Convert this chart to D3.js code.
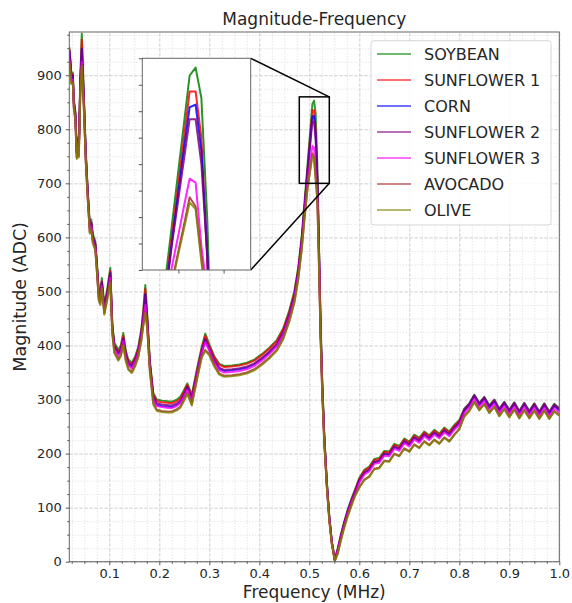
<!DOCTYPE html>
<html>
<head>
<meta charset="utf-8">
<script src="https://cdn.jsdelivr.net/npm/d3@7"></script>
<style>
  body { margin: 0; background: #fff; }
  text { font-family: "DejaVu Sans", sans-serif; fill: #262626; }
</style>
</head>
<body>
<div id="chart"></div>
<script>
// frequency grid (MHz)
const freq = [
  0.020, 0.022, 0.024, 0.027, 0.029, 0.032, 0.035, 0.037, 0.039, 0.042, 0.045, 0.049, 0.053, 0.057, 0.061, 0.064, 0.067, 0.072, 0.075, 0.079,
  0.082, 0.085, 0.090, 0.096, 0.102, 0.106, 0.110, 0.118, 0.123, 0.128, 0.133, 0.138, 0.145, 0.152, 0.158, 0.164, 0.168, 0.172, 0.176, 0.181, 0.188, 0.195,
  0.205, 0.215, 0.225, 0.235, 0.242, 0.248, 0.256, 0.265, 0.275, 0.285, 0.292, 0.300, 0.310, 0.320, 0.330, 0.345, 0.360, 0.375, 0.390, 0.405,
  0.420, 0.435, 0.448, 0.460, 0.470,
  0.478, 0.485, 0.490, 0.4963, 0.4996, 0.5029, 0.5062, 0.5095, 0.5127, 0.516, 0.5193, 0.5226, 0.526, 0.530, 0.535, 0.540, 0.545, 0.551, 0.557, 0.563,
  0.570, 0.577, 0.585, 0.592,
  0.60, 0.61, 0.62, 0.63, 0.64, 0.65, 0.66, 0.67, 0.68, 0.69, 0.70, 0.71, 0.72, 0.73, 0.74, 0.75, 0.76, 0.77, 0.78, 0.79,
  0.80, 0.81, 0.82, 0.83, 0.84, 0.85, 0.86, 0.87, 0.88, 0.89, 0.90, 0.91, 0.92, 0.93, 0.94, 0.95, 0.96, 0.97, 0.98, 0.99, 1.00
];

const soybean = [
  952, 930, 903, 905, 855, 834, 760, 785, 766, 896, 977, 865, 758, 685, 624, 633, 606, 593, 556, 500,
  492, 525, 475, 505, 544, 440, 405, 392, 400, 423, 390, 374, 368, 380, 398, 430, 466, 512, 454, 373, 312, 300,
  298, 297, 296, 300, 305, 315, 330, 309, 355, 398, 422, 402, 380, 366, 362, 363, 365, 368, 374, 384, 396, 410, 432, 465, 500,
  545, 605, 661, 733, 771, 809, 847, 853, 830, 737, 590, 440, 330, 235, 150, 85, 38, 4, 25, 50, 75, 97, 118, 135,
  155, 170, 176, 190, 192, 205, 204, 218, 214, 228, 222, 235, 229, 241, 234, 244, 237, 248, 241, 253,
  262, 283, 293, 309, 294, 305, 289, 300, 283, 296, 281, 295, 279, 294, 279, 293, 278, 293, 278, 292, 284
];
const sunflower1 = [
  949, 927, 900, 902, 852, 831, 757, 782, 762, 890, 966, 860, 754, 681, 620, 627, 602, 588, 552, 496,
  488, 519, 471, 500, 538, 436, 401, 388, 396, 418, 386, 371, 365, 377, 394, 426, 461, 505, 450, 370, 309, 297,
  295, 294, 293, 297, 302, 312, 327, 306, 351, 394, 418, 399, 378, 364, 360, 361, 363, 366, 372, 382, 394, 408, 430, 462, 496,
  541, 598, 652, 724, 761, 798, 835, 835, 800, 705, 578, 432, 325, 231, 147, 83, 37, 4, 24, 48, 73, 95, 116, 133,
  153, 168, 174, 188, 190, 203, 202, 216, 212, 226, 220, 233, 227, 239, 232, 242, 235, 246, 239, 251,
  260, 281, 291, 307, 290, 303, 285, 298, 278, 294, 276, 293, 274, 292, 274, 291, 273, 291, 273, 290, 282
];
const corn = [
  946, 924, 897, 899, 849, 828, 755, 779, 760, 884, 949, 855, 751, 679, 617, 625, 599, 586, 549, 494,
  485, 516, 468, 497, 533, 433, 398, 384, 391, 411, 382, 366, 360, 372, 388, 420, 452, 495, 443, 364, 303, 290,
  288, 287, 286, 290, 295, 305, 322, 300, 345, 388, 410, 392, 371, 357, 353, 354, 356, 359, 365, 375, 387, 401, 423, 455, 490,
  536, 594, 648, 720, 755, 790, 823, 825, 790, 712, 580, 430, 322, 228, 145, 81, 36, 3, 22, 46, 71, 93, 114, 131,
  149, 164, 170, 184, 186, 199, 198, 212, 208, 222, 216, 229, 223, 235, 228, 238, 231, 242, 235, 247,
  256, 279, 289, 306, 290, 301, 285, 296, 279, 292, 277, 291, 275, 290, 275, 289, 274, 289, 274, 288, 280
];
const sunflower2 = [
  947, 925, 898, 900, 850, 829, 756, 780, 761, 882, 946, 856, 752, 680, 619, 627, 601, 588, 551, 495,
  487, 518, 470, 499, 535, 435, 400, 386, 393, 414, 384, 368, 363, 375, 391, 422, 455, 490, 446, 367, 306, 293,
  291, 290, 289, 293, 298, 308, 324, 302, 348, 391, 412, 395, 373, 359, 355, 356, 358, 361, 367, 377, 389, 403, 425, 458, 492,
  538, 596, 650, 718, 750, 782, 814, 814, 780, 710, 578, 430, 322, 228, 145, 81, 36, 3, 21, 45, 70, 92, 113, 130,
  150, 165, 171, 185, 187, 200, 199, 213, 209, 223, 217, 230, 224, 236, 229, 239, 232, 243, 236, 248,
  258, 282, 292, 308, 293, 304, 288, 299, 282, 295, 280, 294, 278, 293, 278, 292, 277, 292, 277, 291, 283
];
const sunflower3 = [
  930, 912, 890, 892, 843, 822, 749, 772, 753, 871, 925, 845, 743, 672, 611, 620, 594, 581, 543, 488,
  480, 510, 462, 490, 525, 428, 393, 380, 388, 408, 378, 363, 357, 370, 386, 416, 445, 475, 437, 360, 299, 288,
  286, 285, 284, 288, 293, 303, 318, 297, 343, 386, 406, 390, 368, 354, 350, 351, 353, 356, 362, 372, 384, 398, 420, 452, 486,
  531, 588, 640, 702, 724, 747, 769, 766, 718, 684, 560, 420, 315, 224, 142, 79, 35, 3, 20, 44, 68, 90, 111, 127,
  146, 161, 167, 181, 183, 196, 195, 209, 205, 219, 213, 226, 220, 232, 225, 235, 228, 239, 232, 244,
  253, 275, 285, 301, 286, 297, 281, 292, 275, 288, 273, 287, 271, 286, 271, 285, 270, 285, 270, 284, 276
];
const avocado = [
  927, 908, 886, 888, 840, 819, 747, 768, 750, 866, 920, 842, 741, 670, 609, 616, 591, 578, 540, 485,
  477, 507, 459, 487, 520, 423, 388, 374, 382, 402, 373, 357, 351, 364, 380, 410, 438, 462, 431, 355, 293, 281,
  279, 278, 278, 282, 287, 297, 312, 291, 337, 380, 392, 384, 363, 348, 344, 345, 347, 350, 356, 366, 378, 392, 414, 446, 480,
  525, 580, 632, 690, 712, 733, 755, 748, 710, 672, 550, 415, 310, 220, 140, 77, 33, 2, 16, 40, 65, 86, 107, 124,
  138, 152, 158, 172, 174, 187, 186, 200, 196, 210, 204, 217, 211, 223, 216, 226, 219, 230, 223, 235,
  246, 270, 280, 296, 281, 292, 276, 287, 270, 283, 268, 282, 266, 281, 266, 280, 265, 280, 265, 279, 271
];
const olive = [
  925, 905, 884, 886, 838, 817, 745, 766, 748, 863, 917, 840, 739, 668, 607, 614, 589, 576, 538, 483,
  475, 505, 457, 485, 517, 421, 386, 372, 380, 400, 371, 355, 349, 362, 378, 408, 436, 460, 429, 353, 291, 279,
  277, 276, 276, 280, 285, 295, 310, 289, 335, 378, 390, 382, 361, 346, 342, 343, 345, 348, 354, 364, 376, 390, 412, 444, 478,
  523, 578, 630, 688, 710, 730, 751, 746, 706, 670, 548, 413, 308, 218, 138, 75, 32, 1, 15, 38, 63, 84, 105, 122,
  137, 151, 157, 171, 173, 186, 185, 199, 195, 209, 203, 216, 210, 222, 215, 225, 218, 229, 222, 234,
  245, 268, 278, 295, 280, 291, 275, 286, 269, 282, 267, 281, 265, 280, 265, 279, 264, 279, 264, 278, 270
];

const seriesNames = ["SOYBEAN", "SUNFLOWER 1", "CORN", "SUNFLOWER 2", "SUNFLOWER 3", "AVOCADO", "OLIVE"];
const seriesValues = [soybean, sunflower1, corn, sunflower2, sunflower3, avocado, olive];
const seriesColors = ["green", "red", "blue", "purple", "magenta", "brown", "olive"];

const xTicks = [0.1, 0.2, 0.3, 0.4, 0.5, 0.6, 0.7, 0.8, 0.9, 1.0];
const yTicks = [0, 100, 200, 300, 400, 500, 600, 700, 800, 900];
const insetXTicks = [0.5, 0.525];
const insetYTicks = [700, 720, 740, 760, 780, 800, 820, 840, 860];

const W = 572, H = 603;
const L = 69.3, R = 559.3, T = 32, B = 561.7;

const svg = d3.select("#chart").append("svg")
    .attr("width", W)
    .attr("height", H);

svg.append("rect").attr("width", W).attr("height", H).attr("fill", "#fff");

const x = d3.scaleLinear().domain([0.02, 1.0]).range([L, R]);
const y = d3.scaleLinear().domain([0, 980]).range([B, T]);

const xMinor = d3.range(0.025, 1.0001, 0.025).filter(v => Math.abs(v * 10 - Math.round(v * 10)) > 1e-6);
const yMinor = d3.range(25, 980, 25).filter(v => v % 100 != 0);

// grid, minor then major
svg.append("g")
    .attr("transform", `translate(0,${B})`)
    .call(d3.axisBottom(x).tickValues(xMinor).tickSize(-(B - T)).tickFormat(""))
    .call(g => g.select(".domain").remove())
    .selectAll("line").attr("stroke", "#dcdcdc").attr("stroke-width", 0.8).attr("stroke-dasharray", "1.3,1.6");
svg.append("g")
    .attr("transform", `translate(${L},0)`)
    .call(d3.axisLeft(y).tickValues(yMinor).tickSize(-(R - L)).tickFormat(""))
    .call(g => g.select(".domain").remove())
    .selectAll("line").attr("stroke", "#dcdcdc").attr("stroke-width", 0.8).attr("stroke-dasharray", "1.3,1.6");
svg.append("g")
    .attr("transform", `translate(0,${B})`)
    .call(d3.axisBottom(x).tickValues(xTicks).tickSize(-(B - T)).tickFormat(""))
    .call(g => g.select(".domain").remove())
    .selectAll("line").attr("stroke", "#c4c4c4").attr("stroke-width", 0.8).attr("stroke-dasharray", "3.5,1.5");
svg.append("g")
    .attr("transform", `translate(${L},0)`)
    .call(d3.axisLeft(y).tickValues(yTicks).tickSize(-(R - L)).tickFormat(""))
    .call(g => g.select(".domain").remove())
    .selectAll("line").attr("stroke", "#c4c4c4").attr("stroke-width", 0.8).attr("stroke-dasharray", "3.5,1.5");

svg.append("clipPath").attr("id", "clipMain")
    .append("rect").attr("x", L).attr("y", T).attr("width", R - L).attr("height", B - T);

const line = d3.line()
    .x((d, i) => x(freq[i]))
    .y(d => y(d));

svg.append("g").attr("clip-path", "url(#clipMain)")
    .selectAll("path")
    .data(seriesValues)
    .enter()
    .append("path")
    .attr("d", d => line(d))
    .attr("fill", "none")
    .attr("stroke", (d, i) => seriesColors[i])
    .attr("stroke-opacity", 0.8)
    .attr("stroke-width", 2)
    .attr("stroke-linejoin", "round");

// spines
svg.append("rect")
    .attr("x", L).attr("y", T).attr("width", R - L).attr("height", B - T)
    .attr("fill", "none").attr("stroke", "#666").attr("stroke-width", 1);

// axes
const xAxis = svg.append("g")
    .attr("transform", `translate(0,${B})`)
    .call(d3.axisBottom(x).tickValues(xTicks).tickSize(3.5).tickPadding(4).tickFormat(d3.format(".1f")));
xAxis.select(".domain").remove();
svg.append("g")
    .attr("transform", `translate(0,${B})`)
    .call(d3.axisBottom(x).tickValues(xMinor).tickSize(2).tickFormat(""))
    .call(g => g.select(".domain").remove());
const yAxis = svg.append("g")
    .attr("transform", `translate(${L},0)`)
    .call(d3.axisLeft(y).tickValues(yTicks).tickSize(3.5).tickPadding(4).tickFormat(d3.format("d")));
yAxis.select(".domain").remove();
svg.append("g")
    .attr("transform", `translate(${L},0)`)
    .call(d3.axisLeft(y).tickValues(yMinor).tickSize(2).tickFormat(""))
    .call(g => g.select(".domain").remove());

svg.selectAll(".tick line").filter(function () { return !this.getAttribute("stroke-dasharray"); })
    .attr("stroke", "#555");
svg.selectAll(".tick text")
    .attr("font-family", "DejaVu Sans, sans-serif")
    .attr("font-size", "13px")
    .attr("fill", "#262626");

// zoomed region marker on main plot
const zx0 = 0.48, zx1 = 0.54, zy0 = 700, zy1 = 860;
svg.append("rect")
    .attr("x", x(zx0)).attr("y", y(zy1))
    .attr("width", x(zx1) - x(zx0)).attr("height", y(zy0) - y(zy1))
    .attr("fill", "none").attr("stroke", "#000").attr("stroke-width", 1.5);

// inset axes
const IL = 142.3, IR = 250.7, IT = 58.3, IB = 270;
const xi = d3.scaleLinear().domain([zx0, zx1]).range([IL, IR]);
const yi = d3.scaleLinear().domain([zy0, zy1]).range([IB, IT]);

svg.append("line")
    .attr("x1", IR).attr("y1", IT).attr("x2", x(zx1)).attr("y2", y(zy1))
    .attr("stroke", "#000").attr("stroke-width", 1.5);
svg.append("line")
    .attr("x1", IR).attr("y1", IB).attr("x2", x(zx1)).attr("y2", y(zy0))
    .attr("stroke", "#000").attr("stroke-width", 1.5);

svg.append("rect")
    .attr("x", IL).attr("y", IT).attr("width", IR - IL).attr("height", IB - IT)
    .attr("fill", "#fff");

svg.append("clipPath").attr("id", "clipInset")
    .append("rect").attr("x", IL).attr("y", IT).attr("width", IR - IL).attr("height", IB - IT);

const lineInset = d3.line()
    .x((d, i) => xi(freq[i]))
    .y(d => yi(d));

svg.append("g").attr("clip-path", "url(#clipInset)")
    .selectAll("path")
    .data(seriesValues)
    .enter()
    .append("path")
    .attr("d", d => lineInset(d))
    .attr("fill", "none")
    .attr("stroke", (d, i) => seriesColors[i])
    .attr("stroke-opacity", 0.85)
    .attr("stroke-width", 2)
    .attr("stroke-linejoin", "round");

svg.append("rect")
    .attr("x", IL).attr("y", IT).attr("width", IR - IL).attr("height", IB - IT)
    .attr("fill", "none").attr("stroke", "#666").attr("stroke-width", 1);

svg.append("g")
    .attr("transform", `translate(0,${IB})`)
    .call(d3.axisBottom(xi).tickValues(insetXTicks).tickSize(3.5).tickFormat(""))
    .call(g => g.select(".domain").remove())
    .selectAll("line").attr("stroke", "#555");
svg.append("g")
    .attr("transform", `translate(${IL},0)`)
    .call(d3.axisLeft(yi).tickValues(insetYTicks).tickSize(3.5).tickFormat(""))
    .call(g => g.select(".domain").remove())
    .selectAll("line").attr("stroke", "#555");

// legend
const legend = svg.append("g");
legend.append("rect")
    .attr("x", 371).attr("y", 40.7).attr("width", 180).attr("height", 184.3)
    .attr("rx", 3).attr("ry", 3)
    .attr("fill", "#fff").attr("fill-opacity", 0.85)
    .attr("stroke", "#d6d6d6").attr("stroke-width", 1);

seriesNames.forEach((name, i) => {
    let cy = 54 + i * 26;
    legend.append("line")
        .attr("x1", 377).attr("x2", 411)
        .attr("y1", cy).attr("y2", cy)
        .attr("stroke", seriesColors[i])
        .attr("stroke-opacity", 0.75)
        .attr("stroke-width", 1.7);
    legend.append("text")
        .attr("x", 424).attr("y", cy + 5.8)
        .attr("font-size", "16px")
        .text(name);
});

// title and axis labels
svg.append("text")
    .attr("x", (L + R) / 2).attr("y", 25)
    .attr("text-anchor", "middle")
    .attr("font-size", "17px")
    .text("Magnitude-Frequency");

svg.append("text")
    .attr("x", (L + R) / 2).attr("y", 598)
    .attr("text-anchor", "middle")
    .attr("font-size", "17px")
    .text("Frequency (MHz)");

svg.append("text")
    .attr("transform", `translate(26,${(T + B) / 2}) rotate(-90)`)
    .attr("text-anchor", "middle")
    .attr("font-size", "17.5px")
    .text("Magnitude (ADC)");
</script>
</body>
</html>
